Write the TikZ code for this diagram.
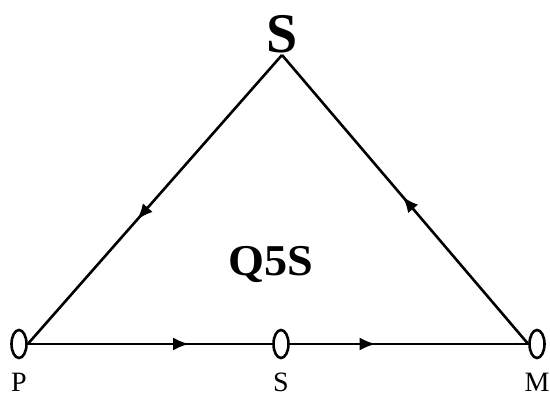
\documentclass[tikz,border=0pt]{standalone}
\usepackage{fontspec}
\setmainfont{Liberation Serif}
\usetikzlibrary{shapes.geometric,decorations.markings,arrows.meta}
\tikzset{
  port/.style={draw, ellipse, line width=2.6pt, minimum width=15pt, minimum height=28pt, inner sep=0pt},
  edge/.style={line width=2.6pt},
  midarrow/.style={postaction={decorate}, decoration={markings, mark=at position #1 with {\arrow{Latex[length=16pt,width=13pt]}}}},
  lbl/.style={font=\fontsize{28}{30}\selectfont, inner sep=0pt, anchor=base}
}
\begin{document}
\begin{tikzpicture}[x=1pt,y=-1pt]
\useasboundingbox (0,0) rectangle (550,396);
\node[port] (P) at (19,344) {};
\node[port] (Sm) at (281,344) {};
\node[port] (M) at (537,344) {};
\coordinate (A) at (282,55);
\node[font=\bfseries\fontsize{56}{60}\selectfont, inner sep=0pt, anchor=base] (top) at (282,53) {S};
\node[font=\bfseries\fontsize{44}{48}\selectfont, inner sep=0pt, anchor=base] (q) at (271,276) {\scalebox{1.05}[1]{Q5S}};
\draw[edge, midarrow=0.57] (A) -- (P.east);
\draw[edge, midarrow=0.51] (M.west) -- (A);
\draw[edge, midarrow=0.66] (P.east) -- (Sm.west);
\draw[edge, midarrow=0.36] (Sm.east) -- (M.west);
\node[lbl] (lp) at (19,391) {P};
\node[lbl] (ls) at (281,391) {S};
\node[lbl] (lm) at (537,391) {M};
\end{tikzpicture}
\end{document}
